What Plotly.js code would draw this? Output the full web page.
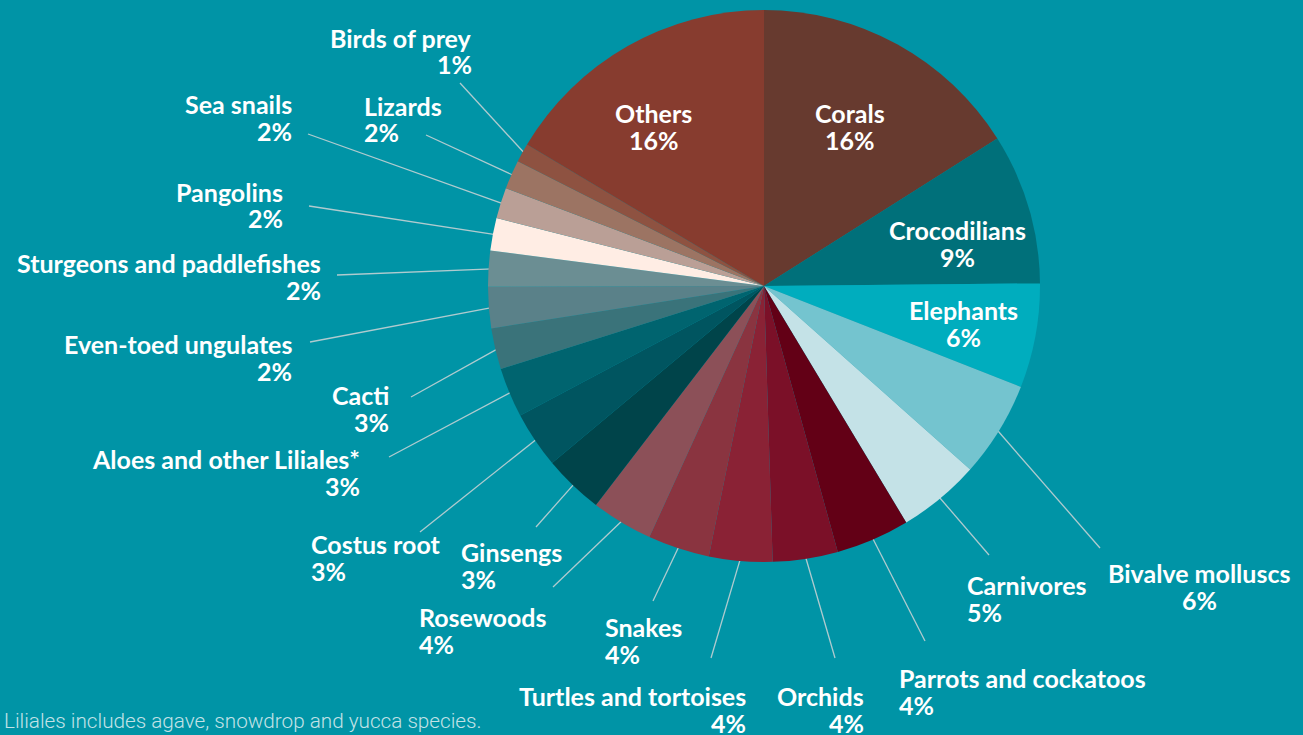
<!DOCTYPE html>
<html>
<head>
<meta charset="utf-8">
<script src="https://cdn.plot.ly/plotly-3.0.1.min.js"></script>
<style>
  html, body { margin: 0; padding: 0; background: #0094A6; }
  #chart { width: 1303px; height: 735px; }
</style>
</head>
<body>
<div id="chart"></div>
<script>
// ---- data ----
const categories = [
  "Corals", "Crocodilians", "Elephants", "Bivalve molluscs", "Carnivores",
  "Parrots and cockatoos", "Orchids", "Turtles and tortoises", "Snakes", "Rosewoods",
  "Ginsengs", "Costus root", "Aloes and other Liliales*", "Cacti", "Even-toed ungulates",
  "Sturgeons and paddlefishes", "Pangolins", "Sea snails", "Lizards", "Birds of prey",
  "Others"
];
const shares = [16.0, 8.8, 6.1, 5.6, 4.8, 4.3, 3.8, 3.7, 3.6, 3.6, 3.5, 3.3, 2.9, 2.4, 2.4, 2.1, 1.9, 1.8, 1.7, 1.1, 16.4];
const shownPercent = [16, 9, 6, 6, 5, 4, 4, 4, 4, 4, 3, 3, 3, 3, 2, 2, 2, 2, 2, 1, 16];
const footnote = "Liliales includes agave, snowdrop and yucca species.";

// ---- styles / layout ----
const colors = [
  "#673A2F", "#00707A", "#00ADBE", "#74C4CF", "#C4E2E7",
  "#630016", "#7B1028", "#8A2235", "#8A3440", "#8C5058",
  "#00444A", "#005560", "#00646F", "#3A737A", "#5A8189",
  "#6B8E93", "#FFEDE4", "#BA9F96", "#9C7463", "#8E5241",
  "#873C2F"
];
const W = 1303, H = 735;
const CX = 764, CY = 286, R = 276;
// label placement in pixels: [x, y of first line, anchor, leader start x, leader start y]
const labelPlace = [
  [850, 112, "center"], [957, 229, "center"], [963, 309, "center"],
  [1199, 572, "center", 1100, 548], [965, 584, "left", 989, 555],
  [897, 677, "left", 925, 641], [866, 695, "right", 835, 658],
  [748, 695, "right", 711, 658], [603, 626, "left", 653, 601],
  [417, 616, "left", 553, 587], [459, 551, "left", 536, 527],
  [309, 543, "left", 420, 532], [362, 458, "right", 389, 457],
  [391, 394, "right", 411, 397], [294, 343, "right", 310, 342],
  [323, 262, "right", 337, 275], [285, 191, "right", 309, 206],
  [294, 103, "right", 308, 134], [362, 105, "left", 426, 135],
  [474, 37, "right", 460, 83], [654, 112, "center"]
];
const LINE_GAP = 26.5;
const labelFont = { family: "Lato, Roboto, sans-serif", size: 25, color: "#FFFFFF", weight: 700 };

const px = x => x / W;
const py = y => 1 - y / H;

const total = shares.reduce((a, b) => a + b, 0);
const annotations = [];
const shapes = [];
let cum = 0;
shares.forEach((v, i) => {
  const mid = (cum + v / 2) / total * 2 * Math.PI;
  cum += v;
  const p = labelPlace[i];
  const yOff = 1;
  annotations.push({
    xref: "paper", yref: "paper", x: px(p[0]), y: py(p[1] + yOff),
    xanchor: p[2], yanchor: "middle", showarrow: false,
    text: categories[i], font: labelFont
  });
  annotations.push({
    xref: "paper", yref: "paper", x: px(p[0]), y: py(p[1] + LINE_GAP + yOff),
    xanchor: p[2], yanchor: "middle", showarrow: false,
    text: shownPercent[i] + "%", font: labelFont
  });
  if (p.length > 3) {
    const ex = CX + R * 0.985 * Math.sin(mid);
    const ey = CY - R * 0.985 * Math.cos(mid);
    shapes.push({
      type: "line", xref: "paper", yref: "paper", layer: "below",
      x0: px(p[3]), y0: py(p[4]), x1: px(ex), y1: py(ey),
      line: { color: "#B0CBCF", width: 1.3 }
    });
  }
});

annotations.push({
  xref: "paper", yref: "paper", x: px(2), y: py(721),
  xanchor: "left", yanchor: "middle", showarrow: false,
  text: footnote,
  font: { family: "Roboto, sans-serif", size: 20.7, color: "#C3E2E6", weight: 300 }
});

const trace = {
  type: "pie",
  labels: categories,
  values: shares,
  sort: false,
  direction: "clockwise",
  rotation: 0,
  textinfo: "none",
  hoverinfo: "label+percent",
  marker: { colors: colors, line: { width: 0 } },
  domain: { x: [px(CX - R), px(CX + R)], y: [py(CY + R), py(CY - R)] },
  showlegend: false
};

const layout = {
  width: W, height: H,
  margin: { l: 0, r: 0, t: 0, b: 0 },
  paper_bgcolor: "#0094A6",
  plot_bgcolor: "#0094A6",
  showlegend: false,
  annotations: annotations,
  shapes: shapes
};

Plotly.newPlot("chart", [trace], layout, { displayModeBar: false, staticPlot: true });
</script>
</body>
</html>
